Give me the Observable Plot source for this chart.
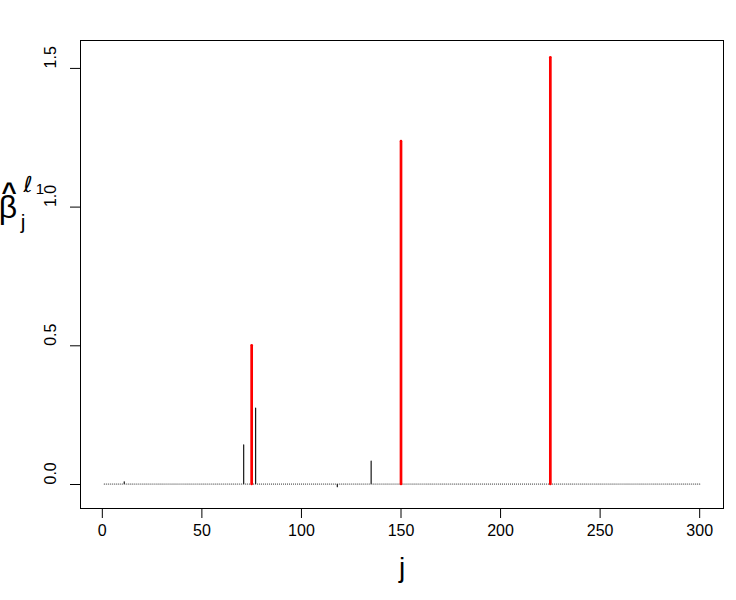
<!DOCTYPE html>
<html>
<head>
<meta charset="utf-8">
<script src="https://cdn.jsdelivr.net/npm/d3@7"></script>
<script src="https://cdn.jsdelivr.net/npm/@observablehq/plot@0.6"></script>
<style>
  html, body { margin: 0; padding: 0; background: #fff; }
  #chart { width: 736px; height: 600px; }
</style>
</head>
<body>
<div id="chart"></div>
<script>
// ---- data ----
const nPoints = 300;                          // j = 1..300
const signalIdx = [75, 150, 225];             // red (true) coefficients
const signalVal = [0.500, 1.236, 1.538];
const noiseIdx  = [11, 71, 77, 118, 135];     // black (spurious) coefficients
const noiseVal  = [0.008, 0.141, 0.274, -0.010, 0.083];
const xTicks = [0, 50, 100, 150, 200, 250, 300];
const yTicks = [0.0, 0.5, 1.0, 1.5];
const xDomain = [-10.96, 311.96];
const yDomain = [-0.0865, 1.6006];

// ---- build the table ----
const sig = new Map(signalIdx.map((j, i) => [j, signalVal[i]]));
const noi = new Map(noiseIdx.map((j, i) => [j, noiseVal[i]]));
const data = d3.range(1, nPoints + 1).map(j => ({
  j,
  b: sig.has(j) ? sig.get(j) : (noi.has(j) ? noi.get(j) : 0),
  signal: sig.has(j)
}));
const black = data.filter(d => !d.signal);
const red = data.filter(d => d.signal);

const font = "'Liberation Sans', Arial, Helvetica, sans-serif";
const fs = 16;

const chart = Plot.plot({
  width: 736,
  height: 600,
  marginLeft: 80,
  marginRight: 13,
  marginTop: 40,
  marginBottom: 92,
  style: { fontFamily: font, fontSize: fs + "px", background: "#fff", color: "black" },
  x: { domain: xDomain },
  y: { domain: yDomain },
  marks: [
    Plot.ruleX(black, { x: "j", y1: 0, y2: "b", stroke: "black", strokeWidth: 1.1, strokeLinecap: "round" }),
    Plot.ruleX(red, { x: "j", y1: 0, y2: "b", stroke: "red", strokeWidth: 2.7, strokeLinecap: "round" }),
    Plot.frame({ stroke: "black", strokeWidth: 1 }),
    Plot.axisX({ ticks: xTicks, tickSize: 10, tickPadding: 6, label: null, fontSize: fs, stroke: "black", fill: "black" }),
    Plot.axisY({ ticks: yTicks, tickSize: 10, tickFormat: () => "", label: null, stroke: "black" }),
    Plot.text(yTicks, { y: d => d, text: d => d.toFixed(1), frameAnchor: "left", dx: -30, rotate: -90, fontSize: fs, fill: "black" }),
    Plot.text(["j"], { frameAnchor: "bottom", dy: 60, text: d => d, fontSize: 28, lineAnchor: "middle", fill: "black" })
  ]
});

document.getElementById("chart").appendChild(chart);

// ---- y-axis label: beta hat, subscript j, superscript l1 (one text element) ----
const svg = d3.select(chart);
const t = svg.append("text").attr("fill", "black").attr("font-family", font);
t.append("tspan").attr("x", 8).attr("y", 218).attr("font-size", 32).text("β");
t.append("tspan").attr("x", 9).attr("y", 201).attr("font-size", 26).attr("font-weight", "bold").text("^");
t.append("tspan").attr("x", 23).attr("y", 229).attr("font-size", 21).text("j");
t.append("tspan").attr("x", 28).attr("y", 192).attr("font-size", 22)
  .attr("font-family", "'DejaVu Sans', sans-serif").text("ℓ");
t.append("tspan").attr("x", 40).attr("y", 194).attr("font-size", 15).text("1");
</script>
</body>
</html>
